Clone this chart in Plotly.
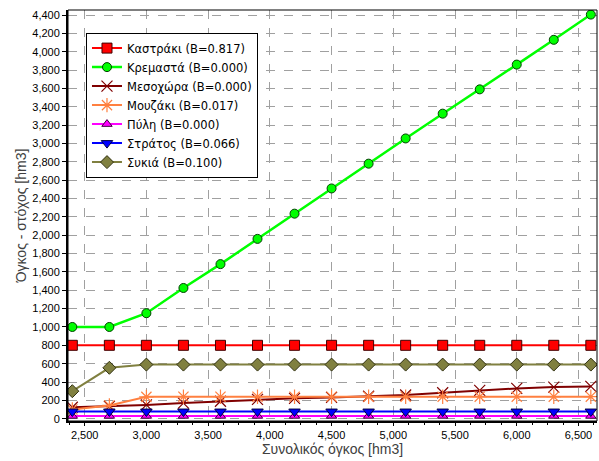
import plotly.graph_objects as go

x_vol = [2400, 2700, 3000, 3300, 3600, 3900, 4200, 4500, 4800, 5100, 5400, 5700, 6000, 6300, 6600]

kastraki = [800] * 15
kremasta = [1000, 1000, 1150, 1425, 1685, 1960, 2235, 2510, 2780, 3055, 3325, 3590, 3860, 4130, 4405]
mesochora = [125, 135, 150, 170, 190, 210, 222, 232, 245, 258, 283, 308, 330, 345, 352]
mouzaki = [100, 145, 238, 240, 240, 240, 240, 240, 240, 240, 240, 240, 240, 240, 240]
pyli = [30] * 15
stratos = [78] * 15
sykia = [300, 555, 590, 590, 590, 590, 590, 590, 590, 590, 590, 590, 590, 590, 590]

names = ["Καστράκι (B=0.817)", "Κρεμαστά (B=0.000)", "Μεσοχώρα (B=0.000)",
         "Μουζάκι (B=0.017)", "Πύλη (B=0.000)", "Στράτος (B=0.066)", "Συκιά (B=0.100)"]
y_tick_vals = list(range(0, 4401, 200))
x_tick_vals = [2500, 3000, 3500, 4000, 4500, 5000, 5500, 6000, 6500]

series = [kastraki, kremasta, mesochora, mouzaki, pyli, stratos, sykia]
styles = [
    dict(color="#ff0000", symbol="square", size=10, lc="#400000", lw=1),
    dict(color="#00ff00", symbol="circle", size=9, lc="#004000", lw=1),
    dict(color="#800000", symbol="x-thin", size=11, lc="#800000", lw=1.2),
    dict(color="#ff8040", symbol="asterisk-open", size=12, lc="#ff8040", lw=1.2),
    dict(color="#ff00ff", symbol="triangle-up", size=9, lc="#400040", lw=1),
    dict(color="#0000ff", symbol="triangle-down", size=10, lc="#000040", lw=1),
    dict(color="#808040", symbol="diamond", size=10, lc="#303010", lw=1),
]

fig = go.Figure()
for nm, ys, st in zip(names, series, styles):
    fig.add_trace(go.Scatter(
        x=x_vol, y=ys, name=nm, mode="lines+markers",
        line=dict(color=st["color"], width=2.5 if st["color"] == "#00ff00" else 2),
        marker=dict(symbol=st["symbol"], size=st["size"], color=st["color"],
                    line=dict(color=st["lc"], width=st["lw"])),
    ))

fig.update_layout(
    width=599, height=461,
    margin=dict(l=68, r=2, t=10, b=40, autoexpand=False),
    paper_bgcolor="white", plot_bgcolor="white",
    font=dict(family="Liberation Sans, Arial, sans-serif", size=11, color="#000000"),
    hovermode=False,
    legend=dict(
        x=0.034, y=0.945, xanchor="left", yanchor="top",
        bgcolor="white", bordercolor="#000000", borderwidth=1,
        font=dict(family="DejaVu Sans, sans-serif", size=11.5, color="#000000"),
        tracegroupgap=0, itemwidth=30,
    ),
    showlegend=True,
)
fig.update_xaxes(
    range=[2365, 6650], tickmode="array", tickvals=x_tick_vals,
    ticktext=[f"{v:,}" for v in x_tick_vals],
    showgrid=True, gridcolor="#a0a0a0", griddash="dash", gridwidth=1,
    showline=True, linecolor="#000000", linewidth=2, mirror=False,
    ticks="outside", ticklen=3, tickcolor="#000000",
    minor=dict(ticks="outside", ticklen=2, tick0=2500, dtick=125, tickcolor="#000000", showgrid=False),
    zeroline=False, automargin=False,
    title=dict(text="Συνολικός όγκος [hm3]", font=dict(size=14, color="#404040"), standoff=0),
)
fig.update_yaxes(
    range=[-25, 4455], tickmode="array", tickvals=y_tick_vals,
    ticktext=[f"{v:,}" for v in y_tick_vals],
    showgrid=True, gridcolor="#a0a0a0", griddash="dash", gridwidth=1,
    showline=True, linecolor="#000000", linewidth=2,
    ticks="outside", ticklen=4, tickcolor="#000000",
    zeroline=False, automargin=False,
    title=dict(text="Όγκος - στόχος [hm3]", font=dict(size=14, color="#404040"), standoff=2),
)
fig.add_shape(type="rect", xref="paper", yref="paper", x0=0, y0=0, x1=1, y1=1,
              line=dict(color="#000000", width=1), layer="above")

fig.write_html("out.html", config={"displayModeBar": False},
               post_script="document.body.style.margin='0';")
